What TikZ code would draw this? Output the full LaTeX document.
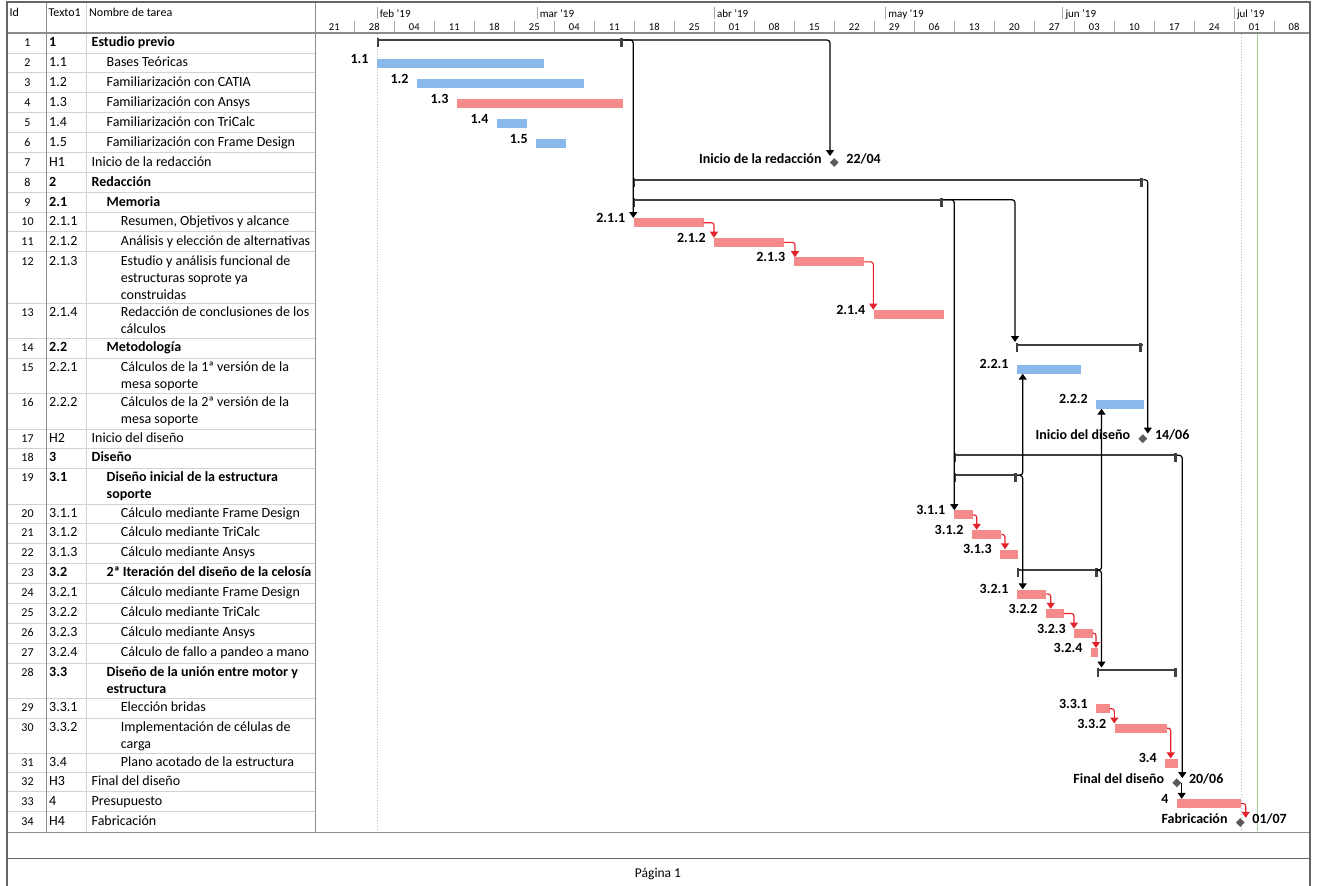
\documentclass[tikz,border=0pt]{standalone}
\usepackage{fontspec}
\setmainfont{Carlito}
\usetikzlibrary{arrows.meta,shapes.geometric}

\definecolor{barblue}{HTML}{8AB8EA}
\definecolor{barred}{HTML}{F58A8A}
\definecolor{linkred}{HTML}{E3222B}
\definecolor{sumgray}{HTML}{404040}
\definecolor{msgray}{HTML}{5A5A5A}
\definecolor{rulegray}{HTML}{D2D2D2}
\definecolor{framegray}{HTML}{8C8C8C}
\definecolor{todaygreen}{HTML}{A9D18E}

\tikzset{
  cell/.style={inner sep=0pt, anchor=base west, font=\fontsize{14}{16}\selectfont},
  bcell/.style={font=\fontsize{14}{16}\selectfont\bfseries},
  idcell/.style={inner sep=0pt, anchor=base, font=\fontsize{12}{14}\selectfont},
  hdr/.style={inner sep=0pt, anchor=base west, font=\fontsize{12}{14}\selectfont},
  month/.style={inner sep=0pt, anchor=base west, font=\fontsize{11}{13}\selectfont},
  week/.style={inner sep=0pt, anchor=base, font=\fontsize{10.5}{12}\selectfont},
  taskbar/.style={inner sep=0pt, minimum height=9pt, draw=none, rectangle},
  barlabel/.style={inner sep=0pt, anchor=base east, font=\fontsize{14}{16}\selectfont\bfseries},
  sumline/.style={fill=sumgray, inner sep=0pt, minimum height=2.2pt, rectangle},
  mstone/.style={diamond, fill=msgray, inner sep=0pt, minimum width=9pt, minimum height=9pt},
  blink/.style={draw=black, line width=1.2pt, rounded corners=3pt, -{Triangle[width=8pt,length=6pt]}},
  rlink/.style={draw=linkred, line width=1.1pt, rounded corners=2.5pt, -{Triangle[width=8pt,length=6pt]}},
  rowrule/.style={draw=rulegray, line width=0.8pt},
}

% one table row: id, row top, code, x of the name, extra style, name
\newcommand\trow[6]{%
  \node[idcell] (id#1) at (27.5,#2+13.3) {#1};
  \node[cell,#5] (code#1) at (49,#2+13.3) {#3};
  \node[cell,#5] (name#1) at (#4,#2+13.3) {#6};
}
% continuation line of a wrapped task name
\newcommand\tmore[5]{\node[cell,#1] (#2) at (#3,#4) {#5};}
% task bar: name, colour, start x, end x, top y, label
\newcommand\taskbar[6]{%
  \node[taskbar, fill=#2, minimum width={(#4-#3)*1pt}, anchor=north west] (#1) at (#3,#5) {};
  \node[barlabel] (#1-label) at ([xshift=-8pt,yshift=-4.5pt]#1.north west) {#6};
}
% summary bracket: name, start x, end x, row top
\newcommand\sumtask[4]{%
  \node[sumline, minimum width={(#3-#2)*1pt}, anchor=west] (#1) at (#2,#4+7) {};
  \fill[sumgray] (#2,#4+5) rectangle (#2+2,#4+14);
  \fill[sumgray] (#3-3,#4+5) rectangle (#3,#4+14);
}
% milestone: name, x, y, left text, right text
\newcommand\milestone[5]{%
  \node[mstone] (#1) at (#2,#3) {};
  \node[barlabel] (#1-l) at ([xshift=-12.5pt,yshift=-1pt]#1.center) {#4};
  \node[barlabel, anchor=base west] (#1-r) at ([xshift=12pt,yshift=-1pt]#1.center) {#5};
}

\begin{document}
\begin{tikzpicture}[x=1pt,y=-1pt]
\useasboundingbox[fill=white] (0,0) rectangle (1317,886);

% ---------- table grid ----------
\foreach \b in {52.9,72.8,92.8,112.7,132.7,152.7,172.7,192.7,212,231.7,251.7,303.3,338.3,358.3,393.3,429.3,448.3,468.3,504,523.3,543.3,563.3,583.3,603.3,623.3,643.3,663.3,698.3,718.3,753.3,772,791.7,811.7}
  {\draw[rowrule] (7,\b) -- (315,\b);}
\draw[framegray, line width=1.2pt] (46.7,2) -- (46.7,832);
\draw[rulegray, line width=0.8pt] (86.7,2) -- (86.7,832);
\draw[framegray, line width=1pt] (315,2) -- (315,832);

% ---------- chart background lines ----------
\draw[gray!55, dotted, line width=0.9pt] (377.3,34) -- (377.3,831);
\draw[gray!55, dotted, line width=0.9pt] (1241,34) -- (1241,831);
\draw[todaygreen, line width=1.3pt] (1257.5,34) -- (1257.5,831);

% ---------- header ----------
\node[hdr] (hid) at (9.5,16.5) {Id};
\node[hdr] (htx) at (48.5,16.5) {Texto1};
\node[hdr] (hnm) at (89,16.5) {Nombre de tarea};
\foreach \mx/\ml [count=\i] in {377.2/feb,537.1/mar,714.3/abr,885.7/may,1062.8/jun,1234.3/jul}{
  \draw[gray!70, line width=0.8pt] (\mx,7.3) -- (\mx,19.3);
  \node[month] (mon\i) at (\mx+2.5,17.5) {\ml\ '19};
}
\foreach \k in {1,...,24}{\draw[gray!70, line width=0.8pt] ({314.3+40*\k},21) -- ({314.3+40*\k},32);}
\foreach \wx/\wl [count=\i] in {334.3/21,374.3/28,414.3/04,454.3/11,494.3/18,534.3/25,574.3/04,614.3/11,654.3/18,694.3/25,734.3/01,774.3/08,814.3/15,854.3/22,894.3/29,934.3/06,974.3/13,1014.3/20,1054.3/27,1094.3/03,1134.3/10,1174.3/17,1214.3/24,1254.3/01,1294/08}{
  \node[week] (wk\i) at (\wx,30.5) {\wl};
}

% ---------- frame ----------
\draw[framegray, line width=1.6pt] (7,33) -- (1310,33);
\draw[framegray, line width=1.6pt] (7,832.5) -- (1310,832.5);
\draw[gray!80!black, line width=1pt] (7,858) -- (1310,858);
\draw[gray!80!black, line width=1.4pt] (7,2) rectangle (1310,890);
\node[inner sep=0pt, anchor=base, font=\fontsize{13.5}{15}\selectfont] (page) at (658,877) {Página 1};

% ---------- table rows ----------
\trow{1}{33}{1}{91.5}{bcell}{Estudio previo}
\trow{2}{52.9}{1.1}{106.5}{}{Bases Teóricas}
\trow{3}{72.8}{1.2}{106.5}{}{Familiarización con CATIA}
\trow{4}{92.8}{1.3}{106.5}{}{Familiarización con Ansys}
\trow{5}{112.7}{1.4}{106.5}{}{Familiarización con TriCalc}
\trow{6}{132.7}{1.5}{106.5}{}{Familiarización con Frame Design}
\trow{7}{152.7}{H1}{91.5}{}{Inicio de la redacción}
\trow{8}{172.7}{2}{91.5}{bcell}{Redacción}
\trow{9}{192.7}{2.1}{106.5}{bcell}{Memoria}
\trow{10}{212}{2.1.1}{120.7}{}{Resumen, Objetivos y alcance}
\trow{11}{231.7}{2.1.2}{120.7}{}{Análisis y elección de alternativas}
\trow{12}{251.7}{2.1.3}{120.7}{}{Estudio y análisis funcional de}
\tmore{}{name12b}{120.7}{282.4}{estructuras soprote ya}
\tmore{}{name12c}{120.7}{299.4}{construidas}
\trow{13}{303.3}{2.1.4}{120.7}{}{Redacción de conclusiones de los}
\tmore{}{name13b}{120.7}{333.6}{cálculos}
\trow{14}{338.3}{2.2}{106.5}{bcell}{Metodología}
\trow{15}{358.3}{2.2.1}{120.7}{}{Cálculos de la 1ª versión de la}
\tmore{}{name15b}{120.7}{388.6}{mesa soporte}
\trow{16}{393.3}{2.2.2}{120.7}{}{Cálculos de la 2ª versión de la}
\tmore{}{name16b}{120.7}{423.6}{mesa soporte}
\trow{17}{429.3}{H2}{91.5}{}{Inicio del diseño}
\trow{18}{448.3}{3}{91.5}{bcell}{Diseño}
\trow{19}{468.3}{3.1}{106.5}{bcell}{Diseño inicial de la estructura}
\tmore{bcell}{name19b}{106.5}{498.6}{soporte}
\trow{20}{504}{3.1.1}{120.7}{}{Cálculo mediante Frame Design}
\trow{21}{523.3}{3.1.2}{120.7}{}{Cálculo mediante TriCalc}
\trow{22}{543.3}{3.1.3}{120.7}{}{Cálculo mediante Ansys}
\trow{23}{563.3}{3.2}{106.5}{bcell}{2ª Iteración del diseño de la celosía}
\trow{24}{583.3}{3.2.1}{120.7}{}{Cálculo mediante Frame Design}
\trow{25}{603.3}{3.2.2}{120.7}{}{Cálculo mediante TriCalc}
\trow{26}{623.3}{3.2.3}{120.7}{}{Cálculo mediante Ansys}
\trow{27}{643.3}{3.2.4}{120.7}{}{Cálculo de fallo a pandeo a mano}
\trow{28}{663.3}{3.3}{106.5}{bcell}{Diseño de la unión entre motor y}
\tmore{bcell}{name28b}{106.5}{693.6}{estructura}
\trow{29}{698.3}{3.3.1}{120.7}{}{Elección bridas}
\trow{30}{718.3}{3.3.2}{120.7}{}{Implementación de células de}
\tmore{}{name30b}{120.7}{748.6}{carga}
\trow{31}{753.3}{3.4}{120.7}{}{Plano acotado de la estructura}
\trow{32}{772}{H3}{91.5}{}{Final del diseño}
\trow{33}{791.7}{4}{91.5}{}{Presupuesto}
\trow{34}{811.7}{H4}{91.5}{}{Fabricación}

% ---------- summary brackets ----------
\sumtask{s1}{376.7}{623.3}{33}
\sumtask{s8}{633.3}{1143}{172.7}
\sumtask{s9}{633.3}{942.7}{192.7}
\sumtask{s14}{1016}{1142.3}{338.3}
\sumtask{s18}{954}{1176.7}{448.3}
\sumtask{s19}{954}{1016.7}{468.3}
\sumtask{s23}{1016.7}{1098.3}{563.3}
\sumtask{s28}{1096.7}{1176.7}{663.3}

% ---------- task bars ----------
\taskbar{b11}{barblue}{376.7}{543.3}{58.9}{1.1}
\taskbar{b12}{barblue}{416.7}{584}{78.8}{1.2}
\taskbar{b13}{barred}{456.7}{622.7}{98.8}{1.3}
\taskbar{b14}{barblue}{496.7}{526.7}{118.7}{1.4}
\taskbar{b15}{barblue}{536}{565.7}{138.7}{1.5}
\taskbar{b211}{barred}{633.3}{703.3}{218}{2.1.1}
\taskbar{b212}{barred}{714}{783.3}{237.7}{2.1.2}
\taskbar{b213}{barred}{793.3}{863.3}{257.2}{2.1.3}
\taskbar{b214}{barred}{873.3}{944}{309.7}{2.1.4}
\taskbar{b221}{barblue}{1016.7}{1080.3}{364.3}{2.2.1}
\taskbar{b222}{barblue}{1096}{1144}{399.3}{2.2.2}
\taskbar{b311}{barred}{953.3}{972.3}{510.2}{3.1.1}
\taskbar{b312}{barred}{971.7}{1001}{529.8}{3.1.2}
\taskbar{b313}{barred}{1000}{1017.7}{549.3}{3.1.3}
\taskbar{b321}{barred}{1016.7}{1046}{589.3}{3.2.1}
\taskbar{b322}{barred}{1045.7}{1063.3}{608.8}{3.2.2}
\taskbar{b323}{barred}{1074}{1092.3}{628.5}{3.2.3}
\taskbar{b324}{barred}{1090.7}{1097.3}{648}{3.2.4}
\taskbar{b331}{barred}{1096}{1109.3}{704}{3.3.1}
\taskbar{b332}{barred}{1114.3}{1166.7}{723.5}{3.3.2}
\taskbar{b34}{barred}{1165}{1177.7}{758.4}{3.4}
\taskbar{b4}{barred}{1176.7}{1240.7}{798.8}{4}

% ---------- milestones ----------
\milestone{m1}{834.2}{162.5}{Inicio de la redacción}{22/04}
\milestone{m2}{1142.8}{438.7}{Inicio del diseño}{14/06}
\milestone{m3}{1176.8}{782.8}{Final del diseño}{20/06}
\milestone{m4}{1240.2}{822.5}{Fabricación}{01/07}

% ---------- links between summaries, tasks and milestones ----------
\draw[blink] (s1.east) -| (b211.north west);
\draw[blink] (s1.east) -| ([xshift=-4.2pt,yshift=1.8pt]m1.north);
\draw[blink] (s8.east) -| ([xshift=5pt,yshift=0.5pt]m2.north);
\draw[blink] (s9.east) -| ([xshift=1pt]b311.north west);
\draw[blink] (s9.east) -| ([xshift=-1pt,yshift=2pt]s14.north west);
\draw[blink] (s18.east) -| ([xshift=5.5pt]m3.north);
\draw[blink] (s19.east) -| ([xshift=6pt]b221.south west);
\draw[blink] (s19.east) -| ([xshift=6pt]b321.north west);
\draw[blink] (s23.east) -| ([xshift=5.5pt]b222.south west);
\draw[blink] (s23.east) -| ([xshift=4.8pt,yshift=1.5pt]s28.north west);
\draw[blink, rounded corners=0pt] ([xshift=5pt]b4.north west |- m3.east) -- ([xshift=5pt]b4.north west);

\draw[rlink] (b211.east) -| (b212.north west);
\draw[rlink] (b212.east) -| ([xshift=1.7pt]b213.north west);
\draw[rlink] (b213.east) -| (b214.north west);
\draw[rlink] (b311.east) -| ([xshift=5pt]b312.north west);
\draw[rlink] (b312.east) -| ([xshift=5pt]b313.north west);
\draw[rlink] (b321.east) -| ([xshift=5pt]b322.north west);
\draw[rlink] (b322.east) -| (b323.north west);
\draw[rlink] (b323.east) -| ([xshift=5.3pt]b324.north west);
\draw[rlink] (b331.east) -| (b332.north west);
\draw[rlink] (b332.east) -| ([xshift=5.7pt]b34.north west);
\draw[rlink] (b4.east) -| ([xshift=5.5pt]m4.north);
\end{tikzpicture}
\end{document}
